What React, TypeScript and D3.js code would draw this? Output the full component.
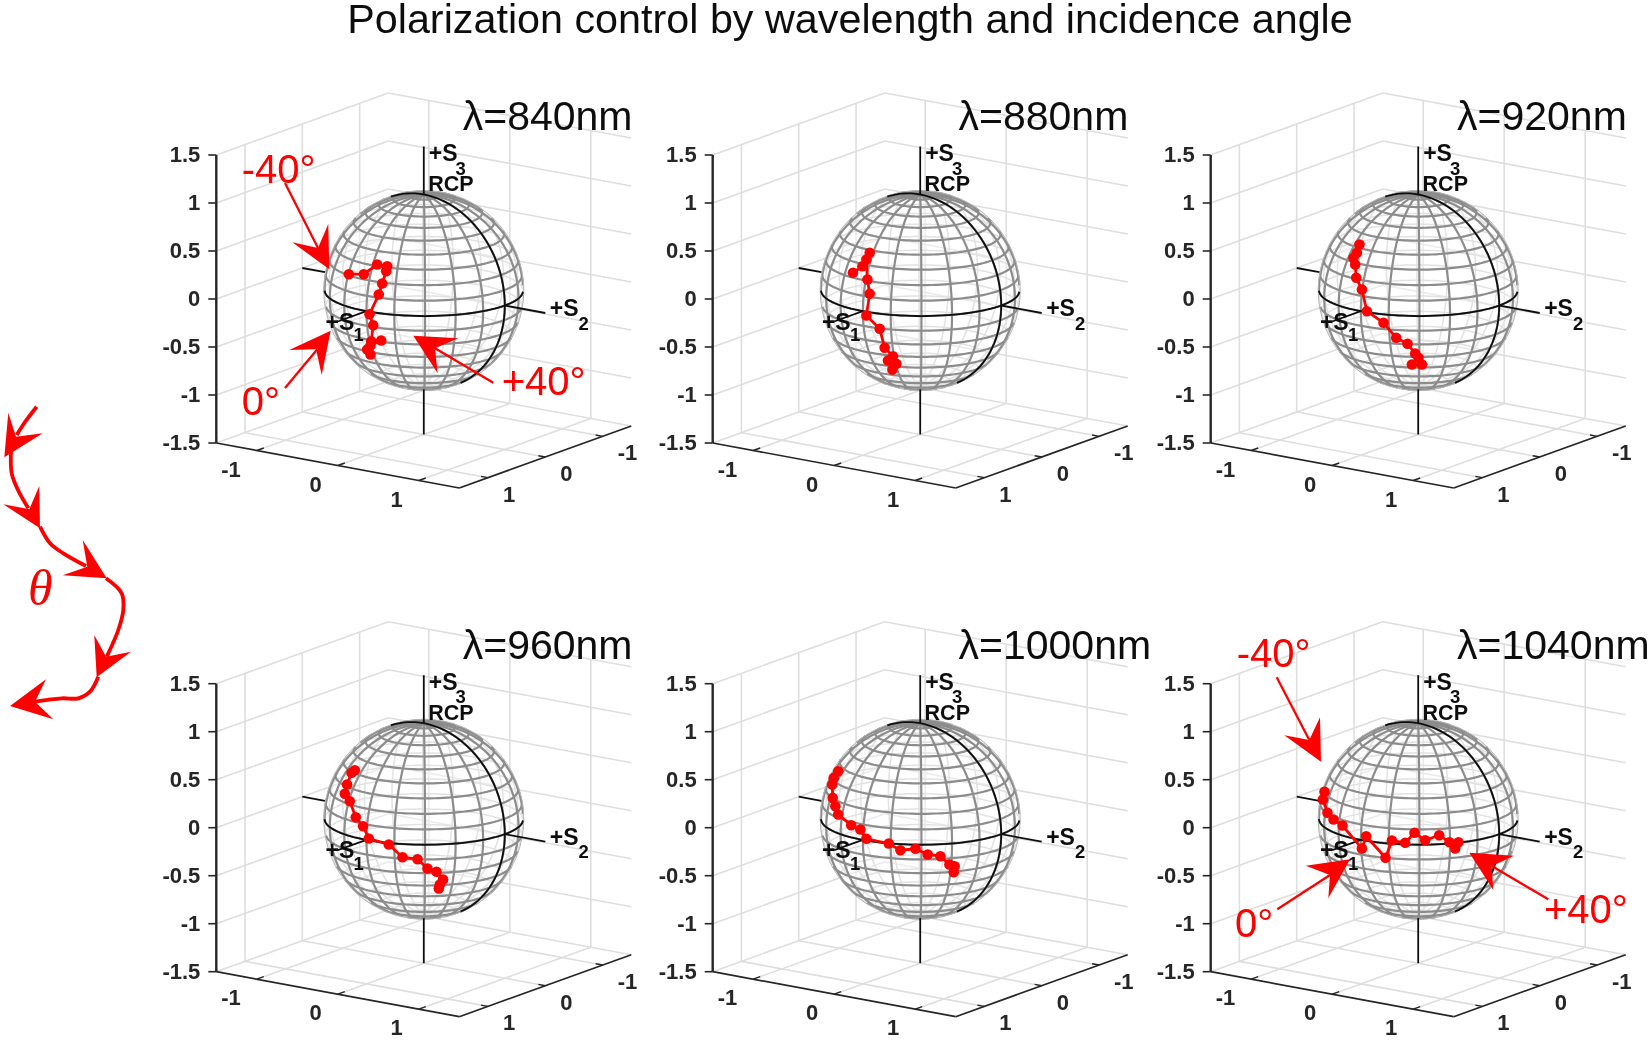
import { useEffect, useRef } from 'react';
import * as d3 from 'd3';

const title = 'Polarization control by wavelength and incidence angle';
const wavelengths = [840, 880, 920, 960, 1000, 1040];
const zTicks = [-1.5, -1, -0.5, 0, 0.5, 1, 1.5];
const floorTicks = [-1, 0, 1];
const parallels = d3.range(-81, 82, 9);
const meridians = d3.range(0, 360, 18);

// traces, in sphere radii on the view plane: [across, up]
const trace840 = [[-0.75, 0.163], [-0.6, 0.163], [-0.466, 0.26], [-0.366, 0.243], [-0.376, 0.193], [-0.416, 0.07], [-0.45, -0.04], [-0.543, -0.237], [-0.506, -0.347], [-0.526, -0.507], [-0.426, -0.5], [-0.533, -0.55], [-0.566, -0.59], [-0.533, -0.64]];
const trace880 = [[-0.672, 0.177], [-0.578, 0.243], [-0.505, 0.377], [-0.538, 0.31], [-0.528, 0.11], [-0.505, -0.033], [-0.538, -0.25], [-0.405, -0.383], [-0.355, -0.573], [-0.272, -0.657], [-0.322, -0.7], [-0.238, -0.733], [-0.278, -0.79]];
const trace920 = [[-0.587, 0.46], [-0.613, 0.377], [-0.647, 0.327], [-0.63, 0.26], [-0.62, 0.127], [-0.563, 0.01], [-0.513, -0.207], [-0.347, -0.323], [-0.22, -0.473], [-0.107, -0.533], [-0.03, -0.63], [0.003, -0.673], [0.037, -0.74], [-0.063, -0.74]];
const trace960 = [[-0.69, 0.49], [-0.723, 0.464], [-0.767, 0.347], [-0.79, 0.254], [-0.74, 0.18], [-0.68, 0.02], [-0.607, -0.07], [-0.55, -0.193], [-0.35, -0.253], [-0.213, -0.38], [-0.063, -0.4], [0.037, -0.493], [0.127, -0.526], [0.193, -0.603], [0.16, -0.653], [0.15, -0.693]];
const trace1000 = [[-0.82, 0.48], [-0.865, 0.413], [-0.88, 0.347], [-0.875, 0.213], [-0.848, 0.13], [-0.82, 0.047], [-0.69, -0.06], [-0.598, -0.103], [-0.538, -0.196], [-0.315, -0.243], [-0.198, -0.31], [-0.048, -0.296], [0.075, -0.353], [0.202, -0.37], [0.292, -0.453], [0.345, -0.47], [0.335, -0.53]];
const trace1040 = [[-0.937, 0.274], [-0.953, 0.197], [-0.907, 0.064], [-0.847, -0.003], [-0.757, -0.063], [-0.563, -0.293], [-0.52, -0.17], [-0.327, -0.386], [-0.263, -0.213], [-0.13, -0.236], [-0.037, -0.136], [0.07, -0.21], [0.21, -0.16], [0.313, -0.23], [0.403, -0.23], [0.37, -0.293]];
const traces = [trace840, trace880, trace920, trace960, trace1000, trace1040];

// the red callouts: label, where its text starts, line start and end, arrow tip and wings
const callouts = [
  { label: '-40°', text: [241.7, 183], line: [[285, 183], [318, 248]], head: [[329.3, 269.3], [292.3, 242.3], [318, 248], [328.3, 224]] },
  { label: '0°', text: [241.7, 415], line: [[285, 388], [316.7, 350]], head: [[330.7, 330.7], [289.3, 350], [316, 349.3], [321.7, 375]] },
  { label: '+40°', text: [501.7, 395], line: [[493.3, 382.7], [435, 348.3]], head: [[413.3, 335.7], [458.3, 338.3], [435, 348.3], [437.7, 373.3]] },
  { label: '-40°', text: [1236.7, 666.7], line: [[1276.7, 677.3], [1309.3, 740]], head: [[1321, 761.7], [1284.3, 735.3], [1309.3, 740], [1320, 717.3]] },
  { label: '0°', text: [1235, 936.7], line: [[1277.3, 909.3], [1330, 875]], head: [[1350, 859.3], [1305.7, 865.7], [1330, 875], [1328.3, 898.3]] },
  { label: '+40°', text: [1544, 923], line: [[1548.3, 899.3], [1491.7, 866]], head: [[1469.3, 852.7], [1514, 855.7], [1491.7, 866], [1493.3, 890]] },
];

// theta curve on the left, one stroke and one arrow head per leg
const thetaLegs = [
  { path: [[36.7, 406.7], [25, 422], [16.7, 435]], head: [[4.3, 457.3], [8.3, 412.7], [16, 436.7], [42.7, 433.3]] },
  { path: [[11, 451.7], [11.7, 473.3], [18, 490], [28.3, 508.3]], head: [[40, 528.3], [3.3, 504.3], [29.3, 509.3], [39.3, 486]] },
  { path: [[40, 526.7], [50, 543.3], [63.3, 553.3], [86, 566]], head: [[106.7, 578.3], [62.7, 575.3], [87.3, 566.7], [82.7, 540]] },
  { path: [[106, 578.3], [121.7, 593.3], [123.3, 610], [118.3, 630], [106.7, 656.7]], head: [[96.7, 677.3], [94.3, 635], [106, 656.7], [131, 651.7]] },
  { path: [[98.3, 676.7], [90, 691.7], [78.3, 698.3], [61.7, 698.3], [35, 701.7]], head: [[10, 706], [46, 679.3], [35, 701.7], [53.3, 719.3]] },
];

const view = { sinTurn: 0.577, cosTurn: 0.813, sinElev: 0.26, cosElev: 0.966 };

const App = () => {
  const chart = useRef<SVGSVGElement | null>(null);

  useEffect(() => {
    const svg = d3.select(chart.current);
    svg.selectAll('*').remove();

    // the source is a soft raster, a touch of blur keeps the strokes alike
    svg.append('defs').append('filter')
      .attr('id', 'soft')
      .attr('x', 0).attr('y', 0).attr('width', 1).attr('height', 1)
      .attr('filterUnits', 'objectBoundingBox')
      .append('feGaussianBlur').attr('stdDeviation', 0.45);

    const root = svg.append('g')
      .attr('filter', 'url(#soft)')
      .attr('font-family', 'Liberation Sans, Arial, sans-serif');
    root.append('rect').attr('width', 1651).attr('height', 1041).attr('fill', '#fff');

    root.append('text')
      .attr('x', 850).attr('y', 32.5)
      .attr('text-anchor', 'middle')
      .attr('font-size', 41.3)
      .attr('fill', '#111')
      .text(title);

    const originsX = [216.3, 712.7, 1210.7];
    const originsY = [443, 971.7];
    const labelX = [462.7, 958.5, 1457];
    const lineGen = d3.line<number[]>().x((d) => d[0]).y((d) => d[1]);

    wavelengths.forEach((wavelength, idx) => {
      const ox = originsX[idx % 3];
      const oy = originsY[Math.floor(idx / 3)];
      const g = root.append('g');

      // axes run: s2 from the left corner to the front corner, s1 from the front corner to the right one
      const s2X = d3.scaleLinear().domain([-1.5, 1.5]).range([0, 243]);
      const s2Y = d3.scaleLinear().domain([-1.5, 1.5]).range([0, 45]);
      const s1X = d3.scaleLinear().domain([1.5, -1.5]).range([0, 172]);
      const s1Y = d3.scaleLinear().domain([1.5, -1.5]).range([0, -62]);
      const s3Y = d3.scaleLinear().domain([-1.5, 1.5]).range([0, -288]);

      const project = (s2: number, s1: number, s3: number): number[] => [
        ox + s2X(s2) + s1X(s1),
        oy + s2Y(s2) + s1Y(s1) + s3Y(s3),
      ];
      const depth = (s2: number, s1: number, s3: number) =>
        view.cosElev * (view.sinTurn * s2 + view.cosTurn * s1) + view.sinElev * s3;

      const seg = (a: number[], b: number[]) => `M${a[0]},${a[1]}L${b[0]},${b[1]}`;
      const gridColor = '#dedede';

      // back walls and floor
      const walls = g.append('g').attr('stroke', gridColor).attr('stroke-width', 1.6).attr('fill', 'none');
      zTicks.forEach((z) => {
        walls.append('path').attr('d', seg(project(-1.5, 1.5, z), project(-1.5, -1.5, z)));
        walls.append('path').attr('d', seg(project(-1.5, -1.5, z), project(1.5, -1.5, z)));
      });
      floorTicks.forEach((t) => {
        walls.append('path').attr('d', seg(project(-1.5, t, -1.5), project(-1.5, t, 1.5)));
        walls.append('path').attr('d', seg(project(t, -1.5, -1.5), project(t, -1.5, 1.5)));
        walls.append('path').attr('d', seg(project(-1.5, t, -1.5), project(1.5, t, -1.5)));
        walls.append('path').attr('d', seg(project(t, 1.5, -1.5), project(t, -1.5, -1.5)));
      });

      // sphere wireframe
      const sphereAt = (lon: number, lat: number) => {
        const la = (lat * Math.PI) / 180;
        const lo = (lon * Math.PI) / 180;
        return [Math.cos(la) * Math.cos(lo), Math.cos(la) * Math.sin(lo), Math.sin(la)];
      };
      const parallelPts = (lat: number) => d3.range(0, 363, 3).map((lon) => sphereAt(lon, lat));
      const meridianPts = (lon: number) => d3.range(-90, 271, 3).map((lat) => sphereAt(lon, lat));
      const halfMeridian = (lon: number) => d3.range(-90, 91, 3).map((lat) => sphereAt(lon, lat));
      const wire = (pts: number[][], front: boolean) => {
        const gen = d3.line<number[]>()
          .defined((p) => (depth(p[0], p[1], p[2]) >= 0) === front)
          .x((p) => project(p[0], p[1], p[2])[0])
          .y((p) => project(p[0], p[1], p[2])[1]);
        return gen(pts) as string;
      };

      const center = project(0, 0, 0);
      const back = g.append('g').attr('fill', 'none').attr('stroke', '#cfcfcf').attr('stroke-width', 1.5);
      parallels.forEach((lat) => back.append('path').attr('d', wire(parallelPts(lat), false)));
      meridians.forEach((lon) => back.append('path').attr('d', wire(halfMeridian(lon), false)));

      // veil over everything behind the sphere
      g.append('circle')
        .attr('cx', center[0]).attr('cy', center[1]).attr('r', 100)
        .attr('fill', '#fff').attr('fill-opacity', 0.4);

      const front = g.append('g').attr('fill', 'none').attr('stroke', '#8c8c8c').attr('stroke-width', 2.2);
      parallels.forEach((lat) => front.append('path').attr('d', wire(parallelPts(lat), true)));
      meridians.forEach((lon) => front.append('path').attr('d', wire(halfMeridian(lon), true)));
      g.append('circle')
        .attr('cx', center[0]).attr('cy', center[1]).attr('r', 100)
        .attr('fill', 'none').attr('stroke', '#b5b5b5').attr('stroke-width', 1);

      // black great circles
      const black = g.append('g').attr('fill', 'none').attr('stroke', '#111').attr('stroke-width', 1.8);
      black.append('path').attr('d', wire(parallelPts(0), true));
      black.append('path').attr('d', wire(meridianPts(0), true));

      // Stokes axes, only outside the sphere
      const axisLine = g.append('g').attr('stroke', '#111').attr('stroke-width', 1.8).attr('fill', 'none');
      axisLine.append('path').attr('d', seg(project(0, 0, 1), project(0, 0, 1.5)));
      axisLine.append('path').attr('d', seg(project(0, 0, -1.03), project(0, 0, -1.5)));
      axisLine.append('path').attr('d', seg(project(1, 0, 0), project(1.5, 0, 0)));
      axisLine.append('path').attr('d', seg(project(-1.5, 0, 0), project(-1.22, 0, 0)));
      axisLine.append('path').attr('d', seg(project(0, 1, 0), project(0, 1.5, 0)));

      // plot box edges
      const edges = g.append('g').attr('stroke', '#262626').attr('fill', 'none');
      edges.append('path').attr('stroke-width', 2.4).attr('d', seg(project(-1.5, 1.5, -1.5), project(-1.5, 1.5, 1.5)));
      edges.append('path').attr('stroke-width', 1.7).attr('d', seg(project(-1.5, 1.5, -1.5), project(1.5, 1.5, -1.5)));
      edges.append('path').attr('stroke-width', 1.7).attr('d', seg(project(1.5, 1.5, -1.5), project(1.5, -1.5, -1.5)));

      const tickText = g.append('g').attr('fill', '#262626').attr('font-weight', 700).attr('font-size', 22);
      zTicks.forEach((z) => {
        const p = project(-1.5, 1.5, z);
        edges.append('path').attr('stroke-width', 1.6).attr('d', `M${p[0]},${p[1]}h-8`);
        tickText.append('text').attr('x', p[0] - 16).attr('y', p[1] + 7)
          .attr('text-anchor', 'end').text(String(z));
      });
      floorTicks.forEach((t) => {
        const a = project(t, 1.5, -1.5);
        edges.append('path').attr('stroke-width', 1.4).attr('d', `M${a[0]},${a[1]}l7,-2.5`);
        tickText.append('text').attr('x', a[0] - 16).attr('y', a[1] + 26)
          .attr('text-anchor', 'end').text(String(t));
        const b = project(1.5, t, -1.5);
        edges.append('path').attr('stroke-width', 1.4).attr('d', `M${b[0]},${b[1]}l-7,-1.3`);
        tickText.append('text').attr('x', b[0] + 15).attr('y', b[1] + 24)
          .attr('text-anchor', 'start').text(String(t));
      });

      // measured trace
      const across = d3.scaleLinear().domain([-1, 1]).range([center[0] - 100, center[0] + 100]);
      const up = d3.scaleLinear().domain([-1, 1]).range([center[1] + 100, center[1] - 100]);
      const traceLine = d3.line<number[]>().x((d) => across(d[0])).y((d) => up(d[1]));
      g.append('path')
        .attr('d', traceLine(traces[idx]) as string)
        .attr('fill', 'none').attr('stroke', '#f00').attr('stroke-width', 2.8);
      g.append('g').selectAll('circle')
        .data(traces[idx])
        .join('circle')
        .attr('cx', (d) => across(d[0]))
        .attr('cy', (d) => up(d[1]))
        .attr('r', 5.3)
        .attr('fill', '#f00');

      // axis names, subscripts set by hand
      const names = g.append('g').attr('fill', '#111').attr('font-weight', 700).attr('font-size', 23);
      const named = (label: string, sub: string, dx: number, dy: number, subDx: number, subDy: number) => {
        names.append('text').attr('x', center[0] + dx).attr('y', center[1] + dy).text(label);
        names.append('text').attr('x', center[0] + subDx).attr('y', center[1] + subDy).attr('font-size', 18.5).text(sub);
      };
      named('+S', '3', 5, -129.3, 31.7, -116);
      named('+S', '2', 126, 25.7, 154.7, 39);
      named('+S', '1', -98.3, 39, -70.3, 50.7);
      names.append('text').attr('x', center[0] + 4.4).attr('y', center[1] - 99.3).attr('font-size', 21.5).text('RCP');

      g.append('text')
        .attr('x', labelX[idx % 3])
        .attr('y', oy - 313)
        .attr('font-size', 41)
        .attr('fill', '#111')
        .text(`λ=${wavelength}nm`);
    });

    // callouts in red
    const notes = root.append('g');
    callouts.forEach((c) => {
      notes.append('text').attr('x', c.text[0]).attr('y', c.text[1])
        .attr('font-size', 40).attr('fill', '#f00').text(c.label);
      notes.append('path').attr('d', lineGen(c.line) as string)
        .attr('stroke', '#f00').attr('stroke-width', 2.3).attr('fill', 'none');
      notes.append('path').attr('d', `${lineGen(c.head)}Z`).attr('fill', '#f00');
    });

    // theta curve
    const smooth = d3.line<number[]>().x((d) => d[0]).y((d) => d[1]).curve(d3.curveCatmullRom);
    const curve = root.append('g');
    thetaLegs.forEach((leg) => {
      curve.append('path').attr('d', smooth(leg.path) as string)
        .attr('fill', 'none').attr('stroke', '#f00').attr('stroke-width', 3.8);
      curve.append('path').attr('d', `${lineGen(leg.head)}Z`).attr('fill', '#f00');
    });
    curve.append('text')
      .attr('x', 28).attr('y', 605)
      .attr('font-family', 'Liberation Serif, serif')
      .attr('font-style', 'italic')
      .attr('font-size', 50)
      .attr('fill', '#f00')
      .text('θ');
  }, []);

  return (
    <svg
      ref={chart}
      width={1651}
      height={1041}
      style={{ position: 'absolute', left: 0, top: 0, background: '#fff' }}
    />
  );
};

export default App;
